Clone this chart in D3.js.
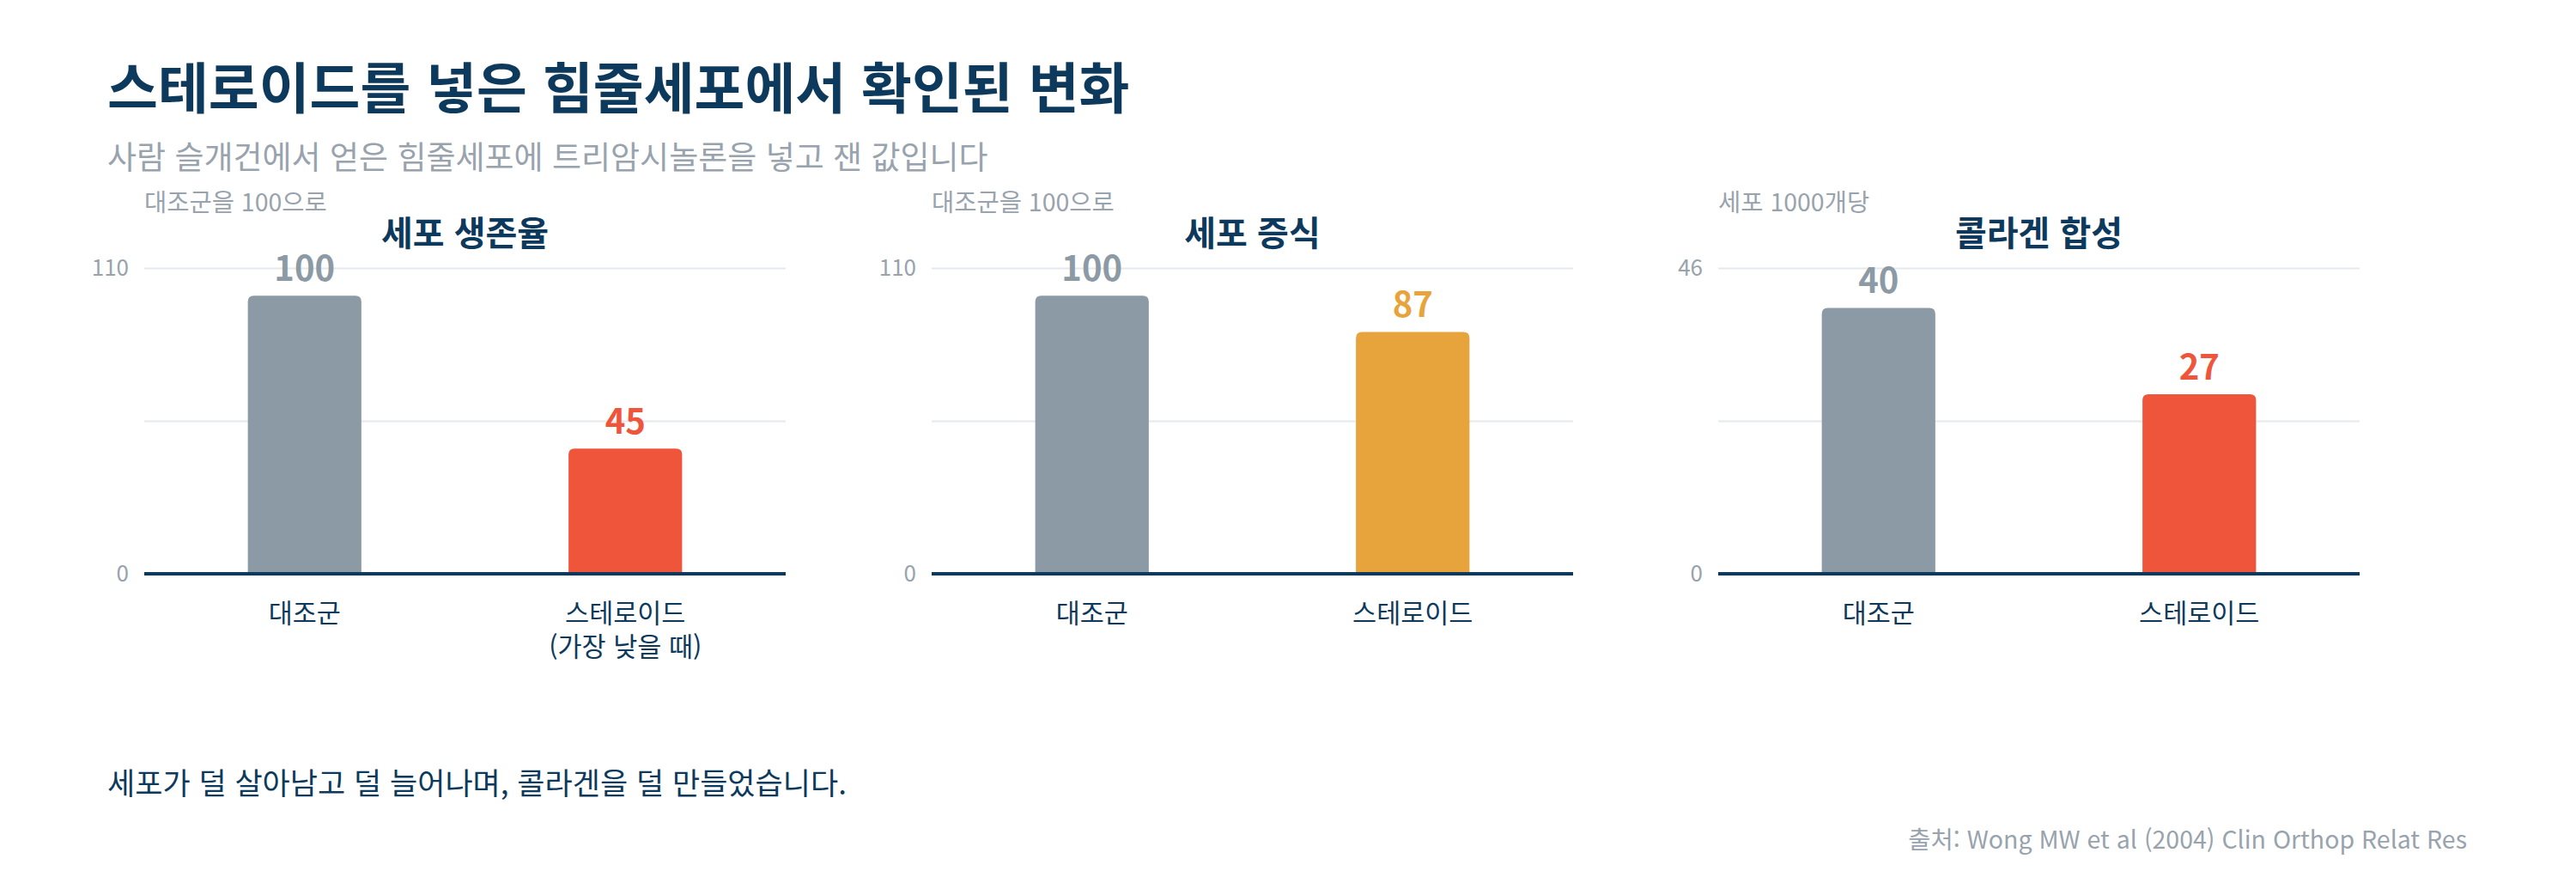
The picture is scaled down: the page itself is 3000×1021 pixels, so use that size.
<!DOCTYPE html>
<html lang="ko">
<head>
  <meta charset="UTF-8" />
  <title>스테로이드를 넣은 힘줄세포에서 확인된 변화</title>
  <script src="https://cdn.jsdelivr.net/npm/d3@7"></script>
  <style>
    html, body { margin: 0; padding: 0; background: #fff; }
    svg text { font-family: "Noto Sans CJK KR", "Noto Sans", sans-serif; }
  </style>
</head>
<body>
  <svg id="svg"></svg>
</body>
<script>
  // 데이터
  const panelTitles = ["세포 생존율", "세포 증식", "콜라겐 합성"];
  const panelUnits = ["대조군을 100으로", "대조군을 100으로", "세포 1000개당"];
  const panelMax = [110, 110, 46];
  const categories = [
    ["대조군", "스테로이드\n(가장 낮을 때)"],
    ["대조군", "스테로이드"],
    ["대조군", "스테로이드"]
  ];
  const controlValues = [100, 100, 40];
  const steroidValues = [45, 87, 27];

  const title = "스테로이드를 넣은 힘줄세포에서 확인된 변화";
  const subtitle = "사람 슬개건에서 얻은 힘줄세포에 트리암시놀론을 넣고 잰 값입니다";
  const note = "세포가 덜 살아남고 덜 늘어나며, 콜라겐을 덜 만들었습니다.";
  const source = "출처: Wong MW et al (2004) Clin Orthop Relat Res";

  const navy = "#0d3a5c";
  const grayText = "#98a3ae";
  const controlColor = "#8c9aa5";
  const steroidColors = ["#ef553b", "#e8a43c", "#ef553b"];

  const width = 3000;
  const height = 1021;
  const panelLeft = [168, 1085, 2001];
  const panelWidth = 747;
  const plotTop = 312;
  const plotBottom = 668;

  const svg = d3.select("#svg").attr("width", width).attr("height", height);

  svg.append("text")
    .attr("x", 125).attr("y", 126)
    .attr("font-size", 64).attr("font-weight", 700)
    .attr("fill", navy)
    .text(title);

  svg.append("text")
    .attr("x", 125).attr("y", 197)
    .attr("font-size", 37)
    .attr("fill", grayText)
    .text(subtitle);

  panelTitles.forEach((pt, i) => {
    const g = svg.append("g").attr("transform", `translate(${panelLeft[i]},0)`);

    const data = [
      { cat: categories[i][0], value: controlValues[i], color: controlColor },
      { cat: categories[i][1], value: steroidValues[i], color: steroidColors[i] }
    ];

    const x = d3.scaleBand()
      .domain(data.map(d => d.cat))
      .range([0, panelWidth])
      .paddingInner(0.646)
      .paddingOuter(0.323);

    const y = d3.scaleLinear()
      .domain([0, panelMax[i]])
      .range([plotBottom, plotTop]);

    g.append("text")
      .attr("x", 0).attr("y", 246)
      .attr("font-size", 28.5)
      .attr("fill", grayText)
      .text(panelUnits[i]);

    g.append("text")
      .attr("x", panelWidth / 2).attr("y", 286)
      .attr("text-anchor", "middle")
      .attr("font-size", 40).attr("font-weight", 700)
      .attr("fill", navy)
      .text(pt);

    // 눈금과 격자
    const yAxis = d3.axisLeft(y)
      .tickValues([0, panelMax[i] / 2, panelMax[i]])
      .tickSize(-panelWidth)
      .tickPadding(18)
      .tickFormat(d => (d === 0 || d === panelMax[i]) ? d : "");
    const yg = g.append("g").call(yAxis);
    yg.select(".domain").remove();
    yg.selectAll(".tick line").attr("stroke", "#e5e8ec").attr("stroke-width", 2);
    yg.selectAll(".tick text")
      .attr("font-size", 26)
      .attr("fill", grayText)
      .attr("font-family", "Noto Sans CJK KR");

    const r = 7;
    g.selectAll("path.bar")
      .data(data)
      .enter()
      .append("path")
      .attr("class", "bar")
      .attr("fill", d => d.color)
      .attr("d", d => {
        const x0 = x(d.cat), x1 = x0 + x.bandwidth();
        const y0 = y(d.value), y1 = y(0);
        return `M${x0},${y1}V${y0 + r}Q${x0},${y0} ${x0 + r},${y0}H${x1 - r}Q${x1},${y0} ${x1},${y0 + r}V${y1}Z`;
      });

    g.selectAll("text.val")
      .data(data)
      .enter()
      .append("text")
      .attr("class", "val")
      .attr("x", d => x(d.cat) + x.bandwidth() / 2)
      .attr("y", d => y(d.value) - 17)
      .attr("text-anchor", "middle")
      .attr("font-size", 40).attr("font-weight", 700)
      .attr("fill", d => d.color)
      .text(d => d.value);

    g.append("line")
      .attr("x1", 0).attr("x2", panelWidth)
      .attr("y1", y(0)).attr("y2", y(0))
      .attr("stroke", navy).attr("stroke-width", 4);

    const labels = g.selectAll("text.cat")
      .data(data)
      .enter()
      .append("text")
      .attr("class", "cat")
      .attr("text-anchor", "middle")
      .attr("font-size", 30.5)
      .attr("fill", navy)
      .attr("y", 725);
    labels.selectAll("tspan")
      .data(d => d.cat.split("\n").map(t => ({ t, cx: x(d.cat) + x.bandwidth() / 2 })))
      .enter()
      .append("tspan")
      .attr("x", d => d.cx)
      .attr("dy", (d, j) => j === 0 ? 0 : 39)
      .text(d => d.t);
  });

  svg.append("text")
    .attr("x", 125).attr("y", 925)
    .attr("font-size", 35)
    .attr("fill", navy)
    .text(note);

  svg.append("text")
    .attr("x", 2873).attr("y", 988)
    .attr("text-anchor", "end")
    .attr("font-size", 28.5)
    .attr("fill", grayText)
    .text(source);
</script>
</html>
